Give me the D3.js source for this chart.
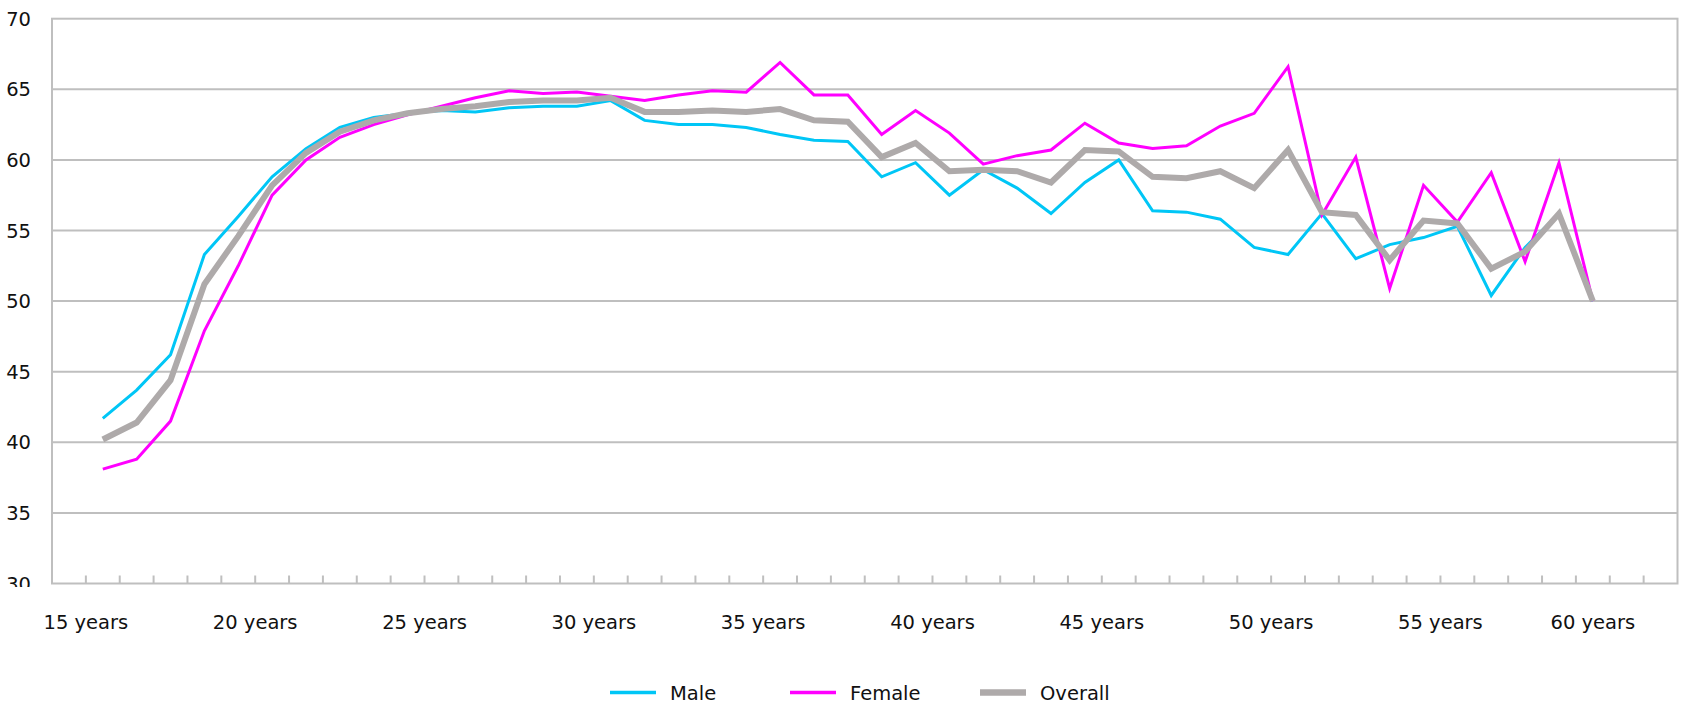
<!DOCTYPE html>
<html lang="en">
<head>
<meta charset="utf-8">
<title>Male / Female / Overall by age</title>
<script src="https://cdn.jsdelivr.net/npm/d3@7/dist/d3.min.js"></script>
<style>
  body { margin: 0; background: #fff; }
  text { font-family: "DejaVu Sans", Verdana, sans-serif; fill: #111; }
</style>
</head>
<body>
<script>
var w = 1687;
var h = 711;

// one label every 5 years
var ageLabels = ["15 years", "20 years", "25 years", "30 years", "35 years",
                 "40 years", "45 years", "50 years", "55 years", "60 years"];

var yTicks = [30, 35, 40, 45, 50, 55, 60, 65, 70];

var male = [41.7, 43.7, 46.2, 53.3, 56.0, 58.8, 60.8, 62.3, 63.0, 63.3,
            63.5, 63.4, 63.7, 63.8, 63.8, 64.2, 62.8, 62.5, 62.5, 62.3,
            61.8, 61.4, 61.3, 58.8, 59.8, 57.5, 59.3, 58.0, 56.2, 58.4,
            60.0, 56.4, 56.3, 55.8, 53.8, 53.3, 56.2, 53.0, 54.0, 54.5,
            55.3, 50.4, 53.8, 56.2, 50.0];

var female = [38.1, 38.8, 41.5, 47.9, 52.5, 57.5, 60.0, 61.6, 62.5, 63.2,
              63.8, 64.4, 64.9, 64.7, 64.8, 64.5, 64.2, 64.6, 64.9, 64.8,
              66.9, 64.6, 64.6, 61.8, 63.5, 61.9, 59.7, 60.3, 60.7, 62.6,
              61.2, 60.8, 61.0, 62.4, 63.3, 66.6, 56.1, 60.2, 50.9, 58.2,
              55.6, 59.1, 52.8, 59.8, 50.0];

var overall = [40.2, 41.4, 44.4, 51.2, 54.6, 58.2, 60.5, 62.0, 62.8, 63.3,
               63.6, 63.8, 64.1, 64.2, 64.2, 64.4, 63.4, 63.4, 63.5, 63.4,
               63.6, 62.8, 62.7, 60.2, 61.2, 59.2, 59.3, 59.2, 58.4, 60.7,
               60.6, 58.8, 58.7, 59.2, 58.0, 60.7, 56.3, 56.1, 52.9, 55.7,
               55.5, 52.3, 53.5, 56.2, 50.0];

var series = [
  {name: "Male", values: male, color: "#00c6f6", width: 3},
  {name: "Female", values: female, color: "#ff00ff", width: 3},
  {name: "Overall", values: overall, color: "#aeaaaa", width: 6}
];

var plotL = 52, plotR = 1677.5, plotT = 18.7, plotB = 583.5;
var nSlots = 48; // category slots on the axis, data sits in slots 1..45

var xScale = d3.scaleBand()
  .domain(d3.range(nSlots))
  .range([plotL, plotR])
  .paddingInner(0).paddingOuter(0);
var bw = xScale.bandwidth();

var yScale = d3.scaleLinear()
  .domain([30, 70])
  .range([plotB, plotT]);

var svg = d3.select("body").append("svg")
  .attr("width", w)
  .attr("height", h);

// gridlines
svg.append("g")
  .selectAll("line")
  .data(yTicks.filter(function(d){ return d > 30 && d < 70; }))
  .enter().append("line")
  .attr("x1", plotL).attr("x2", plotR)
  .attr("y1", function(d){ return yScale(d); })
  .attr("y2", function(d){ return yScale(d); })
  .attr("stroke", "#bfbfbf")
  .attr("stroke-width", 2);

// plot border
svg.append("rect")
  .attr("x", plotL).attr("y", plotT)
  .attr("width", plotR - plotL).attr("height", plotB - plotT)
  .attr("fill", "none")
  .attr("stroke", "#bfbfbf")
  .attr("stroke-width", 2);

// tick marks on the category axis (pointing into the plot)
svg.append("g")
  .selectAll("line")
  .data(d3.range(1, nSlots))
  .enter().append("line")
  .attr("x1", function(k){ return xScale(k); })
  .attr("x2", function(k){ return xScale(k); })
  .attr("y1", plotB).attr("y2", plotB - 8)
  .attr("stroke", "#bfbfbf")
  .attr("stroke-width", 2);

// y labels, clipped just under the axis like the original
svg.append("clipPath").attr("id", "yclip")
  .append("rect").attr("x", 0).attr("y", 0).attr("width", plotL).attr("height", plotB + 3.5);

svg.append("g")
  .attr("clip-path", "url(#yclip)")
  .selectAll("text")
  .data(yTicks)
  .enter().append("text")
  .attr("x", 31)
  .attr("y", function(d){ return yScale(d); })
  .attr("dy", "0.36em")
  .attr("text-anchor", "end")
  .attr("font-size", "19.5px")
  .text(function(d){ return d; });

// x labels
var lastX = xScale(male.length) + bw / 2;
svg.append("g")
  .selectAll("text")
  .data(ageLabels)
  .enter().append("text")
  .attr("x", function(d, j){ return Math.min(xScale(1 + 5 * j), lastX); })
  .attr("y", 622)
  .attr("dy", "0.36em")
  .attr("text-anchor", "middle")
  .attr("font-size", "19.5px")
  .text(function(d){ return d; });

// lines
var line = d3.line()
  .x(function(d, i){ return xScale(i + 1) + bw / 2; })
  .y(function(d){ return yScale(d); });

svg.selectAll("path.series")
  .data(series)
  .enter().append("path")
  .attr("class", "series")
  .attr("d", function(s){ return line(s.values); })
  .attr("fill", "none")
  .attr("stroke", function(s){ return s.color; })
  .attr("stroke-width", function(s){ return s.width; })
  .attr("stroke-linejoin", "miter");

// legend
var legendX = [610, 790, 980];
var legend = svg.append("g")
  .selectAll("g")
  .data(series)
  .enter().append("g")
  .attr("transform", function(s, i){ return "translate(" + legendX[i] + ",692.5)"; });

legend.append("line")
  .attr("x1", 0).attr("x2", 46)
  .attr("y1", 0).attr("y2", 0)
  .attr("stroke", function(s){ return s.color; })
  .attr("stroke-width", function(s){ return s.width === 6 ? 6.5 : 3.5; });

legend.append("text")
  .attr("x", 60)
  .attr("dy", "0.36em")
  .attr("font-size", "19.5px")
  .text(function(s){ return s.name; });
</script>
</body>
</html>
